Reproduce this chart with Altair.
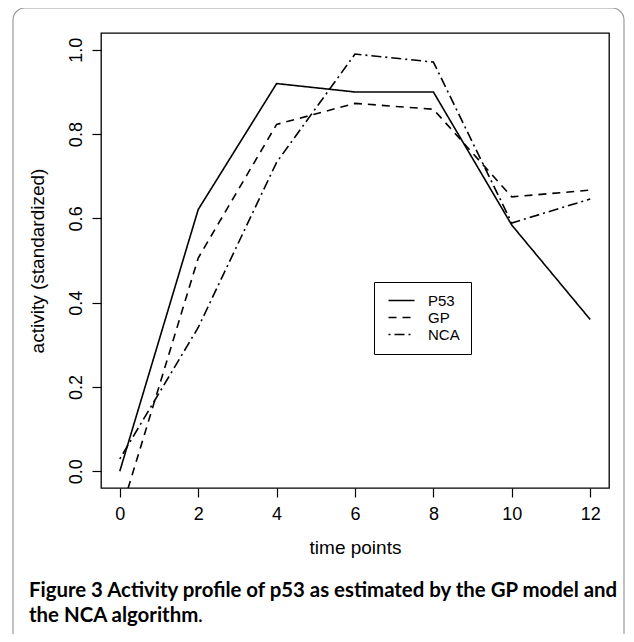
import altair as alt
import pandas as pd

# ---- data ----
time_points = [0, 2, 4, 6, 8, 10, 12]
p53 = [0.0, 0.621, 0.92, 0.90, 0.90, 0.584, 0.36]
gp = [-0.105, 0.506, 0.823, 0.873, 0.859, 0.651, 0.667]
nca = [0.029, 0.341, 0.733, 0.99, 0.971, 0.589, 0.646]
series_names = ["P53", "GP", "NCA"]
x_ticks = [0, 2, 4, 6, 8, 10, 12]
y_ticks = [0.0, 0.2, 0.4, 0.6, 0.8, 1.0]
caption_line1 = "Figure 3 Activity profile of p53 as estimated by the GP model and"
caption_line2 = "the NCA algorithm"
caption_end = "."

rows = []
for name, vals in zip(series_names, [p53, gp, nca]):
    for t, v in zip(time_points, vals):
        rows.append({"time": t, "activity": v, "series": name})
df = pd.DataFrame(rows)

FONT = "Liberation Sans"
CAP_FONT = "Lato"
CAP_SIZE = 20.4
W, H = 508, 455

frame = alt.Chart(pd.DataFrame({"k": [0]})).mark_rect(
    cornerRadius=12, stroke="#9a9a9a", strokeWidth=1.2, fill="white", fillOpacity=0
).encode(
    x=alt.value(-88), x2=alt.value(523), y=alt.value(-25), y2=alt.value(700)
)

lines = alt.Chart(df).mark_line(color="black", strokeWidth=1.6, clip=True).encode(
    x=alt.X(
        "time:Q",
        scale=alt.Scale(domain=[-0.48, 12.48], nice=False, zero=False),
        axis=alt.Axis(
            values=x_ticks, title="time points", labelPadding=8,
            titleY=65, titleX=W / 2, titleBaseline="alphabetic", titleAlign="center",
        ),
    ),
    y=alt.Y(
        "activity:Q",
        scale=alt.Scale(domain=[-0.04, 1.04], nice=False, zero=False),
        axis=alt.Axis(
            values=y_ticks, format=".1f", title="activity (standardized)",
            labelAngle=270, labelAlign="center", labelBaseline="alphabetic", labelPadding=11,
            titleAngle=270, titleX=-58, titleY=H / 2, titleAlign="center",
            titleBaseline="alphabetic",
        ),
    ),
    strokeDash=alt.StrokeDash(
        "series:N",
        scale=alt.Scale(domain=series_names, range=[[1, 0], [8, 6], [2, 4, 10, 4]]),
        legend=alt.Legend(
            title=None, orient="none", legendX=273, legendY=249,
            strokeColor="black", fillColor="white", padding=11,
            symbolType="M-2,0H2", symbolSize=169, symbolStrokeWidth=1.3,
            symbolStrokeColor="black", symbolOffset=9,
            labelFont=FONT, labelFontSize=15,
            labelOffset=19, rowPadding=1,
        ),
    ),
)

cap1 = alt.Chart(pd.DataFrame({"t": [caption_line1]})).mark_text(
    font=CAP_FONT, fontSize=CAP_SIZE, fontWeight="bold", align="left",
    baseline="alphabetic", color="black"
).encode(text="t:N", x=alt.value(-72), y=alt.value(564))

cap2 = alt.Chart(pd.DataFrame({"t": [caption_line2]})).mark_text(
    font=CAP_FONT, fontSize=CAP_SIZE, fontWeight="bold", align="left",
    baseline="alphabetic", color="black"
).encode(text="t:N", x=alt.value(-72), y=alt.value(589))

cap3 = alt.Chart(pd.DataFrame({"t": [caption_end]})).mark_text(
    font=CAP_FONT, fontSize=CAP_SIZE, fontWeight="normal", align="left",
    baseline="alphabetic", color="black"
).encode(text="t:N", x=alt.value(97), y=alt.value(589))

chart = alt.layer(frame, lines, cap1, cap2, cap3).properties(
    width=W, height=H,
    autosize="none",
    padding={"left": 93, "top": 25, "right": 17, "bottom": 146},
).configure_view(
    stroke="black", strokeWidth=1.3
).configure_axis(
    domain=False, grid=False, tickColor="black", tickSize=9, tickWidth=1.2,
    labelColor="black", labelFont=FONT, labelFontSize=18,
    titleColor="black", titleFont=FONT, titleFontSize=19, titleFontWeight="normal",
)

chart.save("out.html", embed_options={"renderer": "svg", "actions": False})
